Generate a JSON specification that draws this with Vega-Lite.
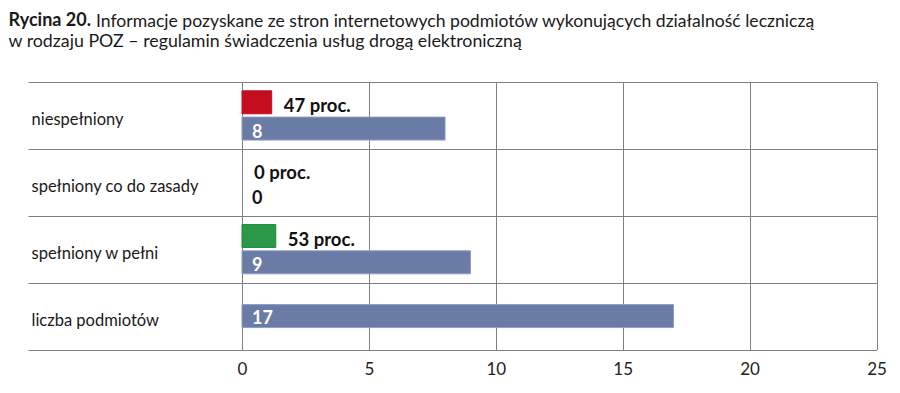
{
  "$schema": "https://vega.github.io/schema/vega-lite/v6.json",
  "width": 634.5,
  "height": 267.5,
  "padding": {"left": 8, "top": 12, "right": 10, "bottom": 10},
  "background": "white",
  "config": {
    "view": {"stroke": null},
    "font": "Lato"
  },
  "title": {
    "text": "Rycina 20.",
    "subtitle": "w rodzaju POZ – regulamin świadczenia usług drogą elektroniczną",
    "anchor": "start",
    "dx": -19,
    "fontSize": 18,
    "fontWeight": "bold",
    "subtitleFontSize": 17.8,
    "subtitleFontWeight": "normal",
    "subtitlePadding": 3,
    "color": "#1a1a1a",
    "subtitleColor": "#1a1a1a",
    "baseline": "top",
    "offset": -39
  },
  "data": {
    "values": [
      {"kategoria": "niespełniony", "rodzaj": "proc", "dlugosc": 1.17, "etykieta": "47 proc."},
      {"kategoria": "niespełniony", "rodzaj": "liczba", "dlugosc": 8, "etykieta": "8"},
      {"kategoria": "spełniony co do zasady", "rodzaj": "proc", "dlugosc": 0, "etykieta": "0 proc."},
      {"kategoria": "spełniony co do zasady", "rodzaj": "liczba", "dlugosc": 0, "etykieta": "0"},
      {"kategoria": "spełniony w pełni", "rodzaj": "proc", "dlugosc": 1.33, "etykieta": "53 proc."},
      {"kategoria": "spełniony w pełni", "rodzaj": "liczba", "dlugosc": 9, "etykieta": "9"},
      {"kategoria": "liczba podmiotów", "rodzaj": "razem", "dlugosc": 17, "etykieta": "17"}
    ]
  },
  "encoding": {
    "y": {
      "field": "kategoria",
      "type": "nominal",
      "sort": ["niespełniony", "spełniony co do zasady", "spełniony w pełni", "liczba podmiotów"],
      "scale": {"paddingInner": 0, "paddingOuter": 0},
      "axis": {
        "title": "Informacje pozyskane ze stron internetowych podmiotów wykonujących działalność leczniczą",
        "titleAngle": 0,
        "titleAlign": "left",
        "titleBaseline": "alphabetic",
        "titleX": -146.5,
        "titleY": -56,
        "titleFontSize": 17.6,
        "titleFontWeight": "normal",
        "titleColor": "#1a1a1a",
        "domain": false,
        "tickBand": "extent",
        "ticks": true,
        "tickSize": 214,
        "tickColor": "#808080",
        "tickWidth": 1,
        "labelAlign": "left",
        "labelPadding": -3,
        "labelOffset": 4,
        "labelFontSize": 16.5,
        "labelColor": "#1a1a1a",
        "grid": true,
        "gridColor": "#808080",
        "gridWidth": 1,
        "gridOpacity": 1
      }
    }
  },
  "layer": [
    {
      "transform": [{"filter": "datum.rodzaj !== 'razem'"}],
      "mark": {"type": "bar", "strokeWidth": 1},
      "encoding": {
        "x": {
          "field": "dlugosc",
          "type": "quantitative",
          "scale": {"domain": [0, 25], "nice": false},
          "axis": {
            "title": null,
            "values": [0, 5, 10, 15, 20, 25],
            "domain": false,
            "ticks": false,
            "grid": true,
            "gridColor": "#808080",
            "gridOpacity": 1,
            "labelFontSize": 17,
            "labelColor": "#222222",
            "labelPadding": 12,
            "labelFlush": false
          }
        },
        "yOffset": {
          "field": "rodzaj",
          "type": "nominal",
          "sort": ["proc", "liczba"],
          "scale": {"paddingInner": 0.125, "paddingOuter": 0.335}
        },
        "color": {
          "condition": [
            {"test": "datum.rodzaj === 'liczba'", "value": "#6a7ba6"},
            {"test": "datum.kategoria === 'niespełniony'", "value": "#c40e20"}
          ],
          "value": "#2b9749"
        },
        "stroke": {
          "condition": [
            {"test": "datum.dlugosc === 0", "value": "transparent"},
            {"test": "datum.rodzaj === 'liczba'", "value": "#8c9cc4"},
            {"test": "datum.kategoria === 'niespełniony'", "value": "#c40e20"}
          ],
          "value": "#1f8a3c"
        }
      }
    },
    {
      "transform": [{"filter": "datum.rodzaj === 'razem'"}],
      "mark": {"type": "bar", "height": 23, "color": "#6a7ba6", "stroke": "#8c9cc4", "strokeWidth": 1},
      "encoding": {
        "x": {"field": "dlugosc", "type": "quantitative"}
      }
    },
    {
      "transform": [{"filter": "datum.rodzaj === 'proc'"}],
      "mark": {"type": "text", "align": "left", "baseline": "middle", "dx": 12, "dy": 4, "fontSize": 18.5, "fontWeight": "bold", "color": "#111111"},
      "encoding": {
        "x": {"field": "dlugosc", "type": "quantitative"},
        "yOffset": {"field": "rodzaj", "type": "nominal", "sort": ["proc", "liczba"]},
        "text": {"field": "etykieta"}
      }
    },
    {
      "transform": [{"filter": "datum.rodzaj === 'liczba'"}],
      "mark": {"type": "text", "align": "left", "baseline": "middle", "dx": 10, "dy": 4, "fontSize": 18, "fontWeight": "bold"},
      "encoding": {
        "x": {"datum": 0, "type": "quantitative"},
        "yOffset": {"field": "rodzaj", "type": "nominal", "sort": ["proc", "liczba"]},
        "text": {"field": "etykieta"},
        "color": {"condition": {"test": "datum.dlugosc > 0", "value": "white"}, "value": "#111111"}
      }
    },
    {
      "transform": [{"filter": "datum.rodzaj === 'razem'"}],
      "mark": {"type": "text", "align": "left", "baseline": "middle", "dx": 10, "dy": 3, "fontSize": 18, "fontWeight": "bold", "color": "white"},
      "encoding": {
        "x": {"datum": 0, "type": "quantitative"},
        "text": {"field": "etykieta"}
      }
    }
  ]
}
